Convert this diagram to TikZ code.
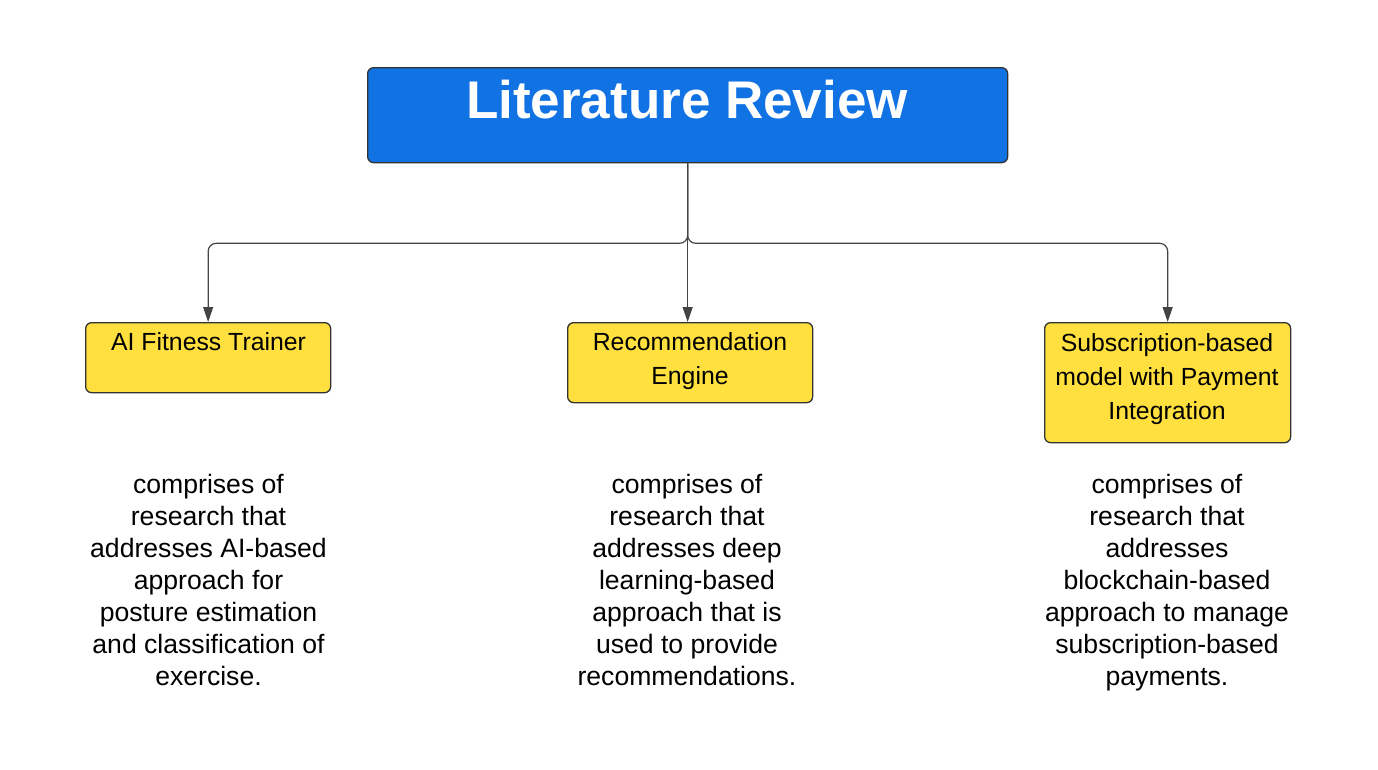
\documentclass[tikz,border=0pt]{standalone}
\usepackage{fontspec}
\setmainfont{Liberation Sans}
\usetikzlibrary{arrows.meta}
\definecolor{bluebox}{HTML}{1172E4}
\definecolor{yellowbox}{HTML}{FFE03F}
\definecolor{edgecol}{HTML}{333333}
\definecolor{linecol}{HTML}{444444}
\begin{document}
\begin{tikzpicture}[x=1pt,y=-1pt,
  box/.style={draw=edgecol, line width=1.3pt, rounded corners=6pt, inner sep=0pt, anchor=north west},
  ybox/.style={box, fill=yellowbox},
  btext/.style={font=\fontsize{24.8}{34}\selectfont, align=center, anchor=base, inner sep=0pt},
  dtext/.style={font=\fontsize{26.6}{32}\selectfont, align=center, anchor=base, inner sep=0pt},
  conn/.style={draw=linecol, line width=1.2pt, rounded corners=8pt, -{Triangle[length=15pt,width=10pt]}}
]
\useasboundingbox (0,0) rectangle (1378,769);
% top box
\node[box, fill=bluebox, minimum width=640pt, minimum height=95pt] (top) at (367,67) {};
\node[font=\fontsize{53}{60}\selectfont\bfseries, text=white, anchor=base, inner sep=0pt] (title) at (687,118) {Literature Review};
% yellow boxes
\node[ybox, minimum width=245pt, minimum height=70pt] (ai) at (85,322) {};
\node[ybox, minimum width=245pt, minimum height=80pt] (rec) at (567,322) {};
\node[ybox, minimum width=246pt, minimum height=120pt] (sub) at (1044,322) {};
\node[btext] (aitxt) at (208.5,350) {AI Fitness Trainer};
\node[btext] (rectxt) at (690,384) {Recommendation\\Engine};
\node[btext] (subtxt) at (1167,419) {Subscription-based\\model with Payment\\Integration};
% connectors
\draw[conn] (top.south) -- ++(0,80) -| (ai.north);
\draw[conn] (top.south) -- (top.south |- rec.north);
\draw[conn] (top.south) -- ++(0,80) -| (sub.north);
% descriptions
\node[dtext] (d1) at (208.5,685) {comprises of\\research that\\addresses AI-based\\approach for\\posture estimation\\and classification of\\exercise.};
\node[dtext] (d2) at (687,685) {comprises of\\research that\\addresses deep\\learning-based\\approach that is\\used to provide\\recommendations.};
\node[dtext] (d3) at (1167,685) {comprises of\\research that\\addresses\\blockchain-based\\approach to manage\\subscription-based\\payments.};
\end{tikzpicture}
\end{document}
